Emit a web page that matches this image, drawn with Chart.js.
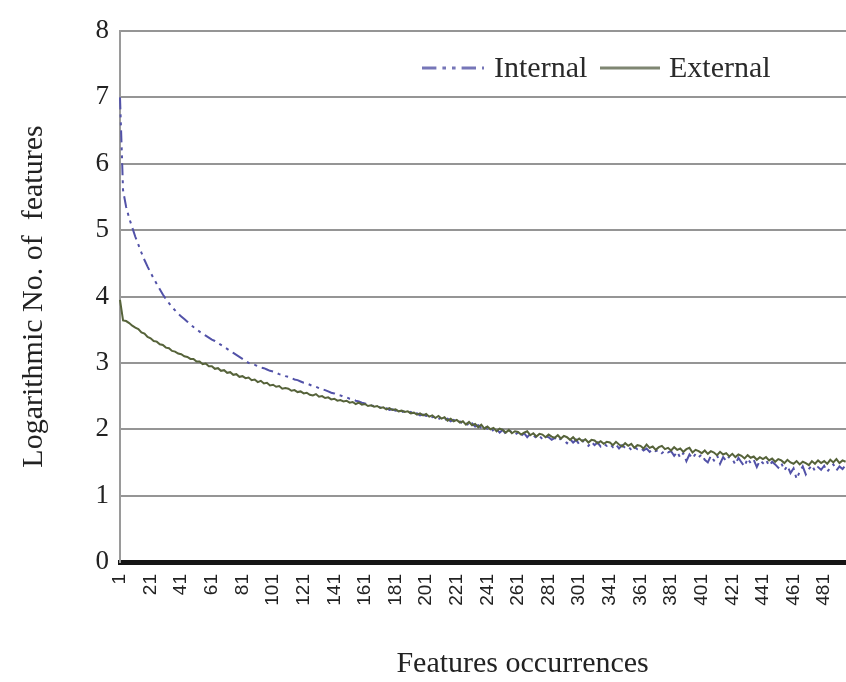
<!DOCTYPE html>
<html>
<head>
<meta charset="utf-8">
<script src="https://cdn.jsdelivr.net/npm/chart.js@4.4.1/dist/chart.umd.min.js"></script>
<style>
  html, body { margin: 0; padding: 0; background: #fff; overflow: hidden; }
  #wrap { width: 846px; height: 682px; overflow: hidden; }
</style>
</head>
<body>
<div id="wrap"><canvas id="occChart" width="960" height="682"></canvas></div>
<script>
// every second occurrence value; the axis jumps from 309 to 331
const categories = [];
for (let k = 0; k < 264; k++) categories.push(String(k <= 154 ? 2 * k + 1 : 2 * k + 21));

const tickLabels = ["1", "21", "41", "61", "81", "101", "121", "141", "161", "181",
  "201", "221", "241", "261", "281", "301", "341", "361", "381", "401", "421", "441", "461", "481"];

const internalVals = [
  7.00, 5.60, 5.35, 5.18, 5.04, 4.90, 4.78, 4.66, 4.55, 4.45,
  4.36, 4.27, 4.19, 4.11, 4.03, 3.96, 3.90, 3.84, 3.79, 3.74,
  3.70, 3.66, 3.62, 3.58, 3.54, 3.51, 3.47, 3.44, 3.41, 3.38,
  3.35, 3.33, 3.30, 3.27, 3.24, 3.21, 3.18, 3.15, 3.12, 3.09,
  3.06, 3.03, 3.00, 2.98, 2.97, 2.95, 2.93, 2.92, 2.90, 2.88,
  2.87, 2.85, 2.83, 2.82, 2.80, 2.79, 2.77, 2.75, 2.74, 2.72,
  2.70, 2.69, 2.67, 2.65, 2.64, 2.62, 2.60, 2.59, 2.57, 2.55,
  2.54, 2.52, 2.51, 2.49, 2.48, 2.46, 2.45, 2.43, 2.42, 2.40,
  2.39, 2.37, 2.36, 2.35, 2.34, 2.33, 2.31, 2.32, 2.29, 2.30,
  2.28, 2.29, 2.26, 2.27, 2.24, 2.26, 2.23, 2.24, 2.21, 2.22,
  2.20, 2.21, 2.18, 2.19, 2.15, 2.18, 2.14, 2.16, 2.12, 2.14,
  2.11, 2.12, 2.08, 2.10, 2.05, 2.09, 2.04, 2.06, 2.02, 2.05,
  2.01, 2.03, 1.97, 2.00, 1.95, 1.99, 1.93, 1.98, 1.96, 1.92,
  1.95, 1.90, 1.94, 1.88, 1.93, 1.91, 1.87, 1.90, 1.85, 1.89,
  1.88, 1.84, 1.87, 1.82, 1.86, 1.83, 1.79, 1.85, 1.80, 1.84,
  1.77, 1.83, 1.78, 1.75, 1.81, 1.76, 1.80, 1.74, 1.78, 1.75,
  1.78, 1.73, 1.77, 1.71, 1.76, 1.72, 1.74, 1.69, 1.73, 1.70,
  1.72, 1.68, 1.71, 1.66, 1.70, 1.67, 1.69, 1.64, 1.68, 1.65,
  1.67, 1.60, 1.66, 1.57, 1.64, 1.52, 1.62, 1.56, 1.63, 1.58,
  1.62, 1.54, 1.50, 1.60, 1.53, 1.61, 1.48, 1.58, 1.52, 1.59,
  1.55, 1.47, 1.57, 1.50, 1.44, 1.56, 1.49, 1.54, 1.43, 1.53,
  1.49, 1.54, 1.45, 1.51, 1.47, 1.42, 1.49, 1.38, 1.45, 1.34,
  1.41, 1.25, 1.36, 1.44, 1.32, 1.40, 1.46, 1.37, 1.43, 1.39,
  1.45, 1.36, 1.42, 1.47, 1.38, 1.44, 1.40, 1.46
];

const externalVals = [
  3.95, 3.64, 3.63, 3.60, 3.56, 3.53, 3.51, 3.46, 3.44, 3.39,
  3.37, 3.33, 3.32, 3.28, 3.27, 3.23, 3.22, 3.18, 3.17, 3.14,
  3.13, 3.10, 3.09, 3.06, 3.06, 3.02, 3.02, 2.98, 2.99, 2.95,
  2.95, 2.91, 2.92, 2.88, 2.89, 2.85, 2.86, 2.82, 2.83, 2.79,
  2.80, 2.77, 2.78, 2.74, 2.75, 2.71, 2.73, 2.69, 2.70, 2.66,
  2.67, 2.64, 2.65, 2.61, 2.62, 2.61, 2.58, 2.59, 2.56, 2.57,
  2.54, 2.55, 2.52, 2.51, 2.53, 2.49, 2.50, 2.47, 2.48, 2.45,
  2.46, 2.43, 2.44, 2.42, 2.43, 2.40, 2.41, 2.38, 2.40, 2.37,
  2.38, 2.35, 2.36, 2.34, 2.35, 2.32, 2.33, 2.30, 2.32, 2.29,
  2.30, 2.27, 2.28, 2.26, 2.27, 2.24, 2.25, 2.22, 2.24, 2.21,
  2.23, 2.19, 2.21, 2.17, 2.20, 2.16, 2.18, 2.13, 2.16, 2.12,
  2.14, 2.10, 2.12, 2.07, 2.11, 2.06, 2.08, 2.03, 2.07, 2.01,
  2.04, 2.00, 2.02, 1.97, 2.01, 1.99, 1.95, 1.99, 1.94, 1.97,
  1.96, 1.92, 1.95, 1.97, 1.91, 1.94, 1.89, 1.93, 1.92, 1.88,
  1.92, 1.89, 1.87, 1.91, 1.86, 1.90, 1.88, 1.84, 1.88, 1.83,
  1.86, 1.82, 1.85, 1.80, 1.84, 1.83, 1.79, 1.82, 1.78, 1.81,
  1.80, 1.76, 1.81, 1.77, 1.74, 1.79, 1.75, 1.78, 1.72, 1.76,
  1.75, 1.71, 1.77, 1.72, 1.74, 1.69, 1.73, 1.75, 1.70, 1.72,
  1.68, 1.73, 1.69, 1.71, 1.66, 1.70, 1.72, 1.65, 1.69, 1.67,
  1.64, 1.68, 1.63, 1.67, 1.65, 1.61, 1.66, 1.62, 1.64, 1.59,
  1.63, 1.58, 1.62, 1.60, 1.56, 1.61, 1.57, 1.59, 1.54, 1.58,
  1.55, 1.58, 1.53, 1.56, 1.51, 1.55, 1.53, 1.49, 1.54, 1.50,
  1.48, 1.52, 1.47, 1.51, 1.49, 1.46, 1.52, 1.48, 1.53, 1.49,
  1.52, 1.48, 1.54, 1.50, 1.55, 1.49, 1.53, 1.51
];

const INTERNAL_COLOR = "#5252a8";
const EXTERNAL_COLOR = "#56633a";
const INTERNAL_DASH = [12, 5, 3, 5, 3, 5];

// legend sits inside the plot, top right
const legendPlugin = {
  id: "insideLegend",
  afterDraw(chart) {
    const ctx = chart.ctx;
    const y = 68;
    ctx.save();
    ctx.lineWidth = 3;
    ctx.strokeStyle = "#7676b8";
    ctx.setLineDash(INTERNAL_DASH.map((d) => d * 1.2));
    ctx.beginPath();
    ctx.moveTo(422, y);
    ctx.lineTo(484, y);
    ctx.stroke();
    ctx.setLineDash([]);
    ctx.strokeStyle = "#7f8672";
    ctx.beginPath();
    ctx.moveTo(600, y);
    ctx.lineTo(660, y);
    ctx.stroke();
    ctx.fillStyle = "#2a2a2a";
    ctx.font = "30px 'Liberation Serif'";
    ctx.textBaseline = "middle";
    ctx.fillText("Internal", 494, y + 1);
    ctx.fillText("External", 669, y + 1);
    ctx.restore();
  },
};

new Chart(document.getElementById("occChart"), {
  type: "line",
  data: {
    labels: categories,
    datasets: [
      {
        label: "Internal",
        data: internalVals,
        borderColor: INTERNAL_COLOR,
        borderWidth: 2,
        borderDash: INTERNAL_DASH,
        pointRadius: 0,
        order: 1,
      },
      {
        label: "External",
        data: externalVals,
        borderColor: EXTERNAL_COLOR,
        borderWidth: 2,
        pointRadius: 0,
        order: 0,
      },
    ],
  },
  options: {
    responsive: false,
    animation: false,
    layout: { padding: { left: 12, top: 31, right: 0, bottom: 0 } },
    plugins: { legend: { display: false }, tooltip: { enabled: false } },
    scales: {
      x: {
        afterFit: (s) => { s.height = 120; },
        grid: { display: true, drawOnChartArea: false, drawTicks: false },
        border: { display: true, color: "#151515", width: 5, dash: [7, 3] },
        ticks: {
          autoSkip: false,
          maxRotation: 90,
          minRotation: 90,
          padding: 12,
          color: "#222",
          font: { family: "'Liberation Sans'", size: 19 },
          callback: function (value) {
            const lab = this.getLabelForValue(value);
            return tickLabels.includes(lab) ? lab : "";
          },
        },
        title: {
          display: true,
          text: "Features occurrences",
          color: "#222",
          padding: { top: 4, bottom: 0 },
          font: { family: "'Liberation Serif'", size: 30 },
        },
      },
      y: {
        min: 0,
        max: 8,
        afterFit: (s) => { s.width = 108; },
        grid: { color: "#959595", lineWidth: 2, drawTicks: false },
        border: { display: true, color: "#9a9a9a", width: 2 },
        ticks: {
          stepSize: 1,
          padding: 11,
          color: "#222",
          font: { family: "'Liberation Serif'", size: 27 },
        },
        title: {
          display: true,
          text: "Logarithmic No. of  features",
          color: "#222",
          font: { family: "'Liberation Serif'", size: 30 },
        },
      },
    },
  },
  plugins: [legendPlugin],
});
</script>
</body>
</html>
